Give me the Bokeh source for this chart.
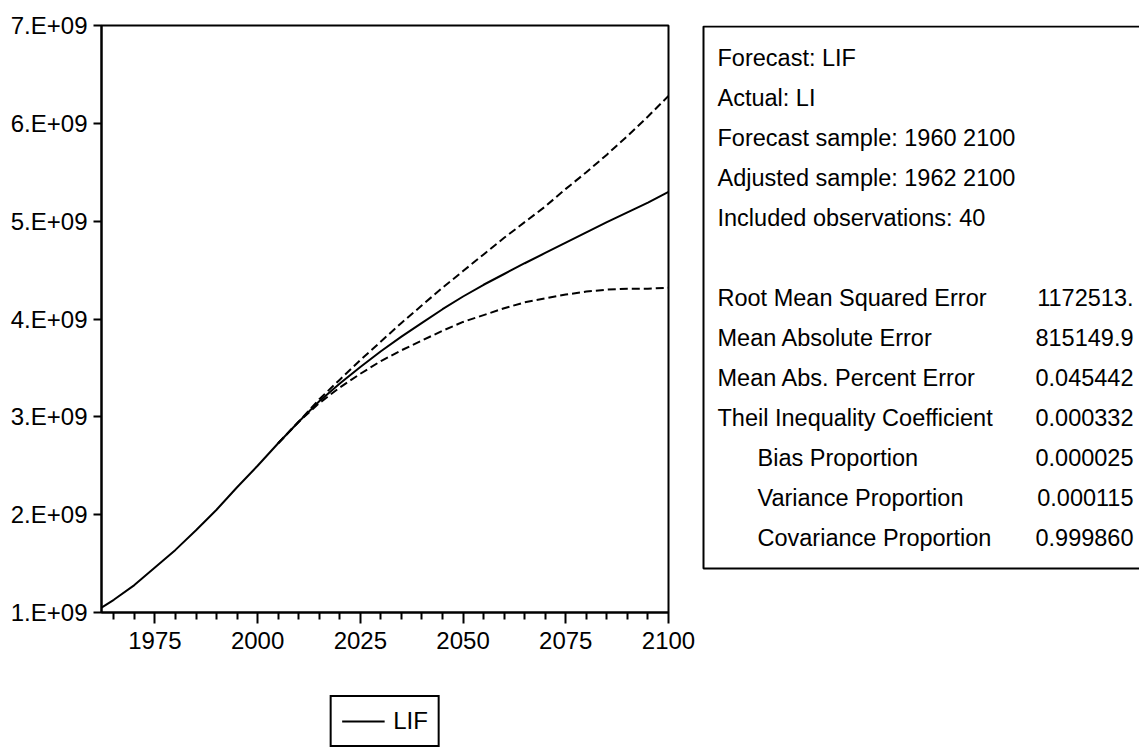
from bokeh.plotting import figure
from bokeh.models import Range1d, FixedTicker, Legend, LegendItem, ColumnDataSource
from bokeh.layouts import row, column
from bokeh.embed import file_html
from bokeh.resources import INLINE
from bokeh.core.properties import value

FONT = "Liberation Sans"

# LIF forecast (solid line)
years = [1962, 1965, 1970, 1975, 1980, 1985, 1990, 1995, 2000, 2005, 2010,
         2015, 2020, 2025, 2030, 2035, 2040, 2045, 2050, 2055, 2060, 2065,
         2070, 2075, 2080, 2085, 2090, 2095, 2100]
lif = [1.05e9, 1.13e9, 1.28e9, 1.46e9, 1.64e9, 1.84e9, 2.05e9, 2.28e9, 2.50e9,
       2.73e9, 2.95e9, 3.16e9, 3.34e9, 3.51e9, 3.67e9, 3.82e9, 3.96e9, 4.10e9,
       4.23e9, 4.35e9, 4.46e9, 4.57e9, 4.675e9, 4.78e9, 4.885e9, 4.99e9, 5.09e9,
       5.19e9, 5.30e9]

# +/- 2 S.E. band (dashed lines)
band_years = [2005, 2010, 2015, 2020, 2025, 2030, 2035, 2040, 2045, 2050, 2055,
              2060, 2065, 2070, 2075, 2080, 2085, 2090, 2095, 2100]
upper = [2.73e9, 2.95e9, 3.18e9, 3.38e9, 3.58e9, 3.77e9, 3.96e9, 4.14e9, 4.32e9,
         4.49e9, 4.66e9, 4.83e9, 4.99e9, 5.15e9, 5.33e9, 5.50e9, 5.68e9, 5.87e9,
         6.07e9, 6.28e9]
lower = [2.73e9, 2.95e9, 3.14e9, 3.30e9, 3.44e9, 3.57e9, 3.68e9, 3.78e9, 3.88e9,
         3.97e9, 4.04e9, 4.11e9, 4.17e9, 4.21e9, 4.25e9, 4.28e9, 4.30e9, 4.31e9,
         4.31e9, 4.32e9]

x_major = [1975, 2000, 2025, 2050, 2075, 2100]
x_minor = [1965, 1970, 1980, 1985, 1990, 1995, 2005, 2010, 2015, 2020, 2030,
           2035, 2040, 2045, 2055, 2060, 2065, 2070, 2080, 2085, 2090, 2095]
y_ticks = [1000000000, 2000000000, 3000000000, 4000000000, 5000000000,
           6000000000, 7000000000]
y_tick_labels = ["1.E+09", "2.E+09", "3.E+09", "4.E+09", "5.E+09", "6.E+09", "7.E+09"]

header_lines = ["Forecast: LIF", "Actual: LI", "Forecast sample: 1960 2100",
                "Adjusted sample: 1962 2100", "Included observations: 40"]
stat_names = ["Root Mean Squared Error", "Mean Absolute Error",
              "Mean Abs. Percent Error", "Theil Inequality Coefficient",
              "Bias Proportion", "Variance Proportion", "Covariance Proportion"]
stat_values = ["1172513.", "815149.9", "0.045442", "0.000332",
               "0.000025", "0.000115", "0.999860"]
stat_indent = [False, False, False, False, True, True, True]

TOP, BOTTOM = 25, 73          # borders of the chart area
LEFT, RIGHT = 101, 32

# ---- main chart ----
p = figure(width=700, height=685, x_range=Range1d(1962, 2100),
           y_range=Range1d(1e9, 7e9), output_backend="svg",
           toolbar_location=None, min_border_left=LEFT, min_border_right=RIGHT,
           min_border_top=TOP, min_border_bottom=BOTTOM)
p.xgrid.visible = False
p.ygrid.visible = False
p.outline_line_color = "black"
p.outline_line_width = 2
p.background_fill_color = "white"
p.border_fill_color = "white"

xa = p.xaxis[0]
xa.ticker = FixedTicker(ticks=x_major, minor_ticks=x_minor)
xa.axis_line_width = 2
xa.major_tick_line_width = 2
xa.minor_tick_line_width = 2
xa.major_tick_in = 0
xa.major_tick_out = 11
xa.minor_tick_in = 0
xa.minor_tick_out = 7
xa.major_label_text_font = FONT
xa.major_label_text_font_size = "24px"
xa.major_label_text_color = "black"
xa.major_label_standoff = 8

ya = p.yaxis[0]
ya.ticker = FixedTicker(ticks=y_ticks, minor_ticks=[])
ya.major_label_overrides = dict(zip(y_ticks, y_tick_labels))
ya.axis_line_width = 2
ya.major_tick_line_width = 2
ya.major_tick_in = 0
ya.major_tick_out = 8
ya.minor_tick_line_color = None
ya.major_label_text_font = FONT
ya.major_label_text_font_size = "24px"
ya.major_label_text_color = "black"
ya.major_label_standoff = 6

p.line(band_years, upper, line_color="black", line_width=2, line_dash="8 4")
p.line(band_years, lower, line_color="black", line_width=2, line_dash="8 4")
p.line(years, lif, line_color="black", line_width=2)

# ---- legend strip under the chart ----
lg = figure(width=700, height=64, x_range=Range1d(0, 1), y_range=Range1d(0, 1),
            output_backend="svg", toolbar_location=None, min_border_left=LEFT,
            min_border_right=RIGHT, min_border_top=0, min_border_bottom=0)
lg.axis.visible = False
lg.xgrid.visible = False
lg.ygrid.visible = False
lg.outline_line_color = None
lg.border_fill_color = "white"
# single-point line: only its legend key is drawn
key = lg.line(x=[0.0], y=[0.0], line_color="black", line_width=2)
legend = Legend(items=[LegendItem(label="LIF", renderers=[key])],
                location="top_center", orientation="vertical",
                border_line_color="black", border_line_width=2,
                border_line_alpha=1.0,
                background_fill_color="white", background_fill_alpha=1,
                label_text_font=FONT, label_text_font_size="24px",
                label_text_color="black", glyph_width=43, glyph_height=20,
                label_standoff=9, padding=10, spacing=0, margin=10)
lg.add_layout(legend)

# ---- statistics panel ----
q = figure(width=439, height=685, x_range=Range1d(10, 449), y_range=Range1d(612, 25),
           output_backend="svg", toolbar_location=None, min_border_left=0,
           min_border_right=0, min_border_top=TOP, min_border_bottom=BOTTOM)
q.axis.visible = False
q.xgrid.visible = False
q.ygrid.visible = False
q.outline_line_color = None
q.border_fill_color = "white"

q.quad(left=[13], right=[470], top=[26], bottom=[568], fill_color=None,
       line_color="black", line_width=2)

row_y = [57, 97, 137, 177, 217]
head_src = ColumnDataSource(dict(x=[27] * len(header_lines), y=row_y, t=header_lines))
q.text(x="x", y="y", text="t", source=head_src, text_font=value(FONT),
       text_font_size="23.5px", text_baseline="middle", text_align="left",
       text_color="black")

stat_y = [297, 337, 377, 417, 457, 497, 537]
name_x = [67 if ind else 27 for ind in stat_indent]
stat_src = ColumnDataSource(dict(x=name_x, y=stat_y, t=stat_names,
                                 vx=[443] * len(stat_values), v=stat_values))
q.text(x="x", y="y", text="t", source=stat_src, text_font=value(FONT),
       text_font_size="23.5px", text_baseline="middle", text_align="left",
       text_color="black")
q.text(x="vx", y="y", text="v", source=stat_src, text_font=value(FONT),
       text_font_size="23.5px", text_baseline="middle", text_align="right",
       text_color="black")

layout = column(row(p, q, spacing=0), lg, spacing=0)
open("out.html", "w").write(file_html(layout, INLINE))
